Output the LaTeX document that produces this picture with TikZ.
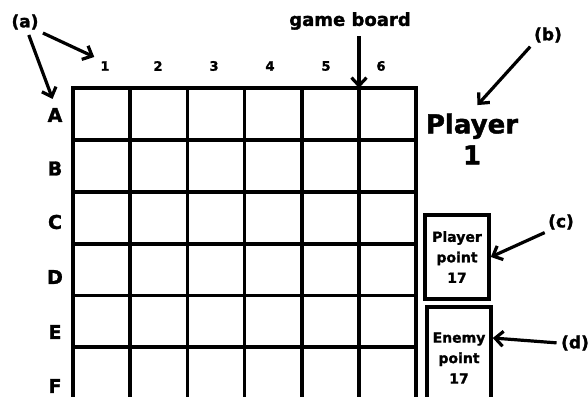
\documentclass[tikz,border=0pt]{standalone}
\usepackage{fontspec}
\setmainfont[BoldFeatures={FakeBold=1.5}]{DejaVu Sans}
\usetikzlibrary{arrows.meta}
\begin{document}
\begin{tikzpicture}[x=1pt, y=-1pt, line width=3.2pt,
  >={Straight Barb[length=8pt,width=15pt]},
  tag/.style={font=\fontsize{17}{20}\selectfont\bfseries, inner sep=1pt},
  colnum/.style={font=\fontsize{13}{15}\selectfont\bfseries, inner sep=1pt},
  rowlbl/.style={font=\fontsize{19}{21}\selectfont\bfseries, inner sep=1pt},
  pointbox/.style={draw, line width=3.6pt, align=center, minimum width=64pt,
    font=\fontsize{14}{20.5}\selectfont\bfseries, inner sep=0pt}]
  \clip (0,0) rectangle (588,396);

  % Coordinates
  \coordinate (gb) at (359,88);

  % Game board grid (runs off the bottom edge)
  \draw (73,88) -- (416,88);
  \draw (73,140) -- (416,140);
  \draw (73,192) -- (416,192);
  \draw (73,244) -- (416,244);
  \draw (73,295.5) -- (416,295.5);
  \draw (73,347) -- (416,347);
  \draw (73,86.4) -- (73,400);
  \draw (130,88) -- (130,400);
  \draw (187.5,88) -- (187.5,400);
  \draw (244.5,88) -- (244.5,400);
  \draw (302,88) -- (302,400);
  \draw (359,88) -- (359,400);
  \draw (416,86.4) -- (416,400);

  % Column numbers
  \node[colnum] (c1) at (105,66) {1};
  \node[colnum] (c2) at (158,66) {2};
  \node[colnum] (c3) at (214,66) {3};
  \node[colnum] (c4) at (270,66) {4};
  \node[colnum] (c5) at (326,66) {5};
  \node[colnum] (c6) at (381,66) {6};

  % Row letters
  \node[rowlbl] (rA) at (55,115) {A};
  \node[rowlbl] (rB) at (55,168.5) {B};
  \node[rowlbl] (rC) at (55,222) {C};
  \node[rowlbl] (rD) at (55,277) {D};
  \node[rowlbl] (rE) at (55,332) {E};
  \node[rowlbl] (rF) at (55,386) {F};

  % Player name and point boxes
  \node[font=\fontsize{26}{31}\selectfont\bfseries, align=center, inner sep=1pt]
    (p1) at (472,139) {Player\\1};
  \node[pointbox, minimum height=84pt] (pbox) at (457,257) {Player\\point\\17};
  \node[pointbox, minimum height=102pt] (ebox) at (459,358) {Enemy\\point\\17};

  % Callout labels
  \node[tag] (a) at (25,22) {(a)};
  \node[tag, font=\fontsize{18}{20}\selectfont\bfseries] (game) at (350,21) {game board};
  \node[tag] (b) at (548,35) {(b)};
  \node[tag] (c) at (561,222) {(c)};
  \node[tag] (d) at (575,343) {(d)};

  % Callout arrows
  \draw[->, shorten <=2pt, shorten >=4pt] (a.south east) -- (c1.north west);
  \draw[->, shorten <=3pt, shorten >=7pt] (a.-75) -- (rA.north);
  \draw[->, shorten <=4pt] (gb |- game.south) -- (gb);
  \draw[->, shorten <=2pt, shorten >=8pt] (b.south west) -- (p1.north);
  \draw[->, shorten <=1pt] (c.south west) -- (pbox.east);
  \draw[->, shorten <=2pt] (d.west) -- (ebox.east |- 0,338);
\end{tikzpicture}
\end{document}
